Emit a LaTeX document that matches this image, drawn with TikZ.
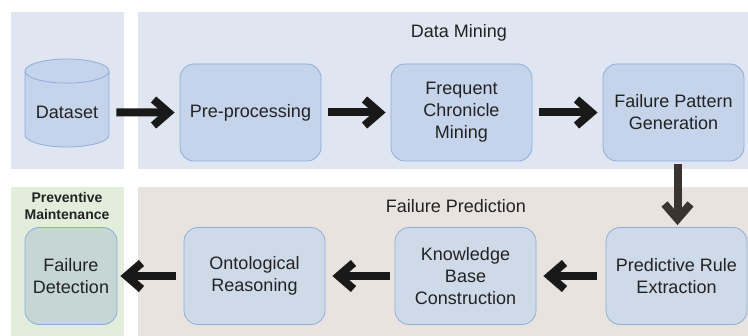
\documentclass[tikz,border=0pt]{standalone}
\usepackage{fontspec}
\setmainfont{Liberation Sans}
\usetikzlibrary{arrows.meta,shapes.geometric}

\definecolor{minebg}{HTML}{DFE6F2}
\definecolor{predbg}{HTML}{E9E3E0}
\definecolor{maintbg}{HTML}{E2EEDB}
\definecolor{boxfill}{HTML}{C5D4EB}
\definecolor{boxlight}{HTML}{CFDAE9}
\definecolor{boxgreen}{HTML}{C6D6D5}
\definecolor{boxline}{HTML}{8FADDB}
\definecolor{txt}{HTML}{222222}
\definecolor{downarrow}{HTML}{3A3431}

\tikzset{
  stage/.style={rectangle, rounded corners=7pt, draw=boxline, fill=boxfill, text=txt,
    minimum width=70.5pt, minimum height=48.5pt, align=center,
    font=\fontsize{9}{11}\selectfont},
  flow/.style={line width=4pt, draw=black!90, -{Straight Barb[length=7.5pt,width=13pt]}},
  title/.style={text=txt, font=\fontsize{9}{11}\selectfont}
}

\begin{document}
\begin{tikzpicture}[x=0.5pt,y=-0.5pt]
    \useasboundingbox (0,0) rectangle (748,336);
    % background panels
    \fill[minebg] (11,12) rectangle (124,169);
    \fill[minebg] (138,12) rectangle (748,169);
    \fill[maintbg] (11,187) rectangle (124,336);
    \fill[predbg] (138,187) rectangle (748,336);

    \node[title] (mining) at (459,33) {Data Mining};
    \node[title] (prediction) at (456,206) {Failure Prediction};
    \node[text=txt, align=center, font=\fontsize{7}{8.5}\selectfont\bfseries] (maint) at (67,206) {Preventive\\Maintenance};

    % top row
    \node[cylinder, shape border rotate=90, aspect=0.32, draw=boxline, fill=boxfill, text=txt,
      minimum width=42pt, minimum height=44pt, font=\fontsize{9}{11}\selectfont] (dataset) at (67,112.5) {Dataset};
    \node[stage] (prep) at (250.5,112.5) {Pre-processing};
    \node[stage] (chron) at (461.5,112.5) {Frequent\\Chronicle\\Mining};
    \node[stage] (pattern) at (673.5,112.5) {Failure Pattern\\Generation};

    % bottom row
    \node[stage, fill=boxlight] (rule) at (676.5,276) {Predictive Rule\\Extraction};
    \node[stage, fill=boxlight] (kb) at (465.5,276) {Knowledge\\Base\\Construction};
    \node[stage, fill=boxlight] (onto) at (254.5,276) {Ontological\\Reasoning};
    \node[stage, fill=boxgreen, minimum width=46pt] (detect) at (71,276) {Failure\\Detection};

    \draw[flow, shorten <=3.5pt, shorten >=2.5pt] (dataset) -- (prep);
    \draw[flow, shorten <=3.5pt, shorten >=2.5pt] (prep) -- (chron);
    \draw[flow, shorten <=3.5pt, shorten >=2.5pt] (chron) -- (pattern);
    \draw[flow, draw=downarrow, shorten <=1.5pt, shorten >=1pt] ([xshift=2pt]pattern.south) -- ([xshift=2pt]pattern.south |- rule.north);
    \draw[flow, shorten <=4.5pt, shorten >=3.5pt] (rule) -- (kb);
    \draw[flow, shorten <=2.5pt, shorten >=3.5pt] (kb) -- (onto);
    \draw[flow, shorten <=4pt, shorten >=1.5pt] (onto) -- (detect);
\end{tikzpicture}
\end{document}
